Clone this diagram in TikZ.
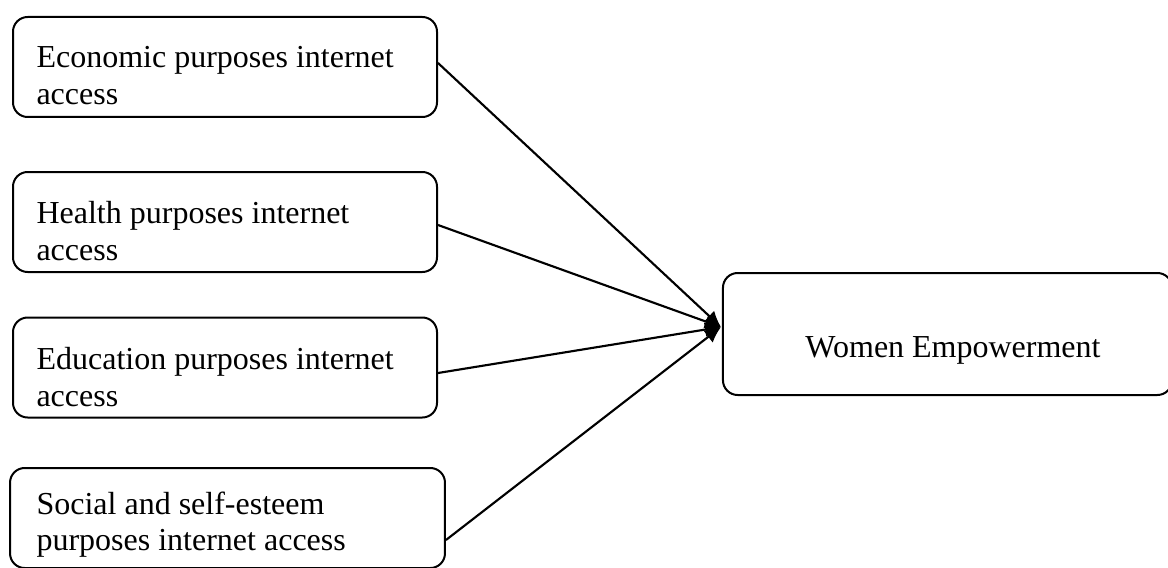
\documentclass[tikz,border=0pt]{standalone}
\usepackage{fontspec}
\setmainfont{Liberation Serif}
\usetikzlibrary{arrows.meta}

\begin{document}
\begin{tikzpicture}[x=0.375pt, y=-0.375pt,
    box/.style={draw, line width=0.75pt, rounded corners=5.5pt, inner sep=0pt, minimum width=159pt, minimum height=37.5pt},
    txt/.style={inner sep=0pt, align=left, anchor=north west, font=\fontsize{12}{13.8}\selectfont},
    link/.style={line width=0.8pt, -{Latex[length=6pt, width=5.5pt]}}]
    \useasboundingbox (0, 0) rectangle (1168, 567);
    % the four kinds of access
    \node[box] (eco) at (225, 67) {};
    \node[box] (hea) at (225, 222) {};
    \node[box] (edu) at (225, 367.5) {};
    \node[box, minimum width=163.1pt] (soc) at (227.5, 518) {};
    \node[txt] (ecotxt) at ([shift={(24, 30)}]eco.north west) {Economic purposes internet\\access};
    \node[txt] (heatxt) at ([shift={(24, 30)}]hea.north west) {Health purposes internet\\access};
    \node[txt] (edutxt) at ([shift={(24, 30)}]edu.north west) {Education purposes internet\\access};
    \node[txt] (soctxt) at ([shift={(27, 24)}]soc.north west) {Social and self-esteem\\purposes internet access};
    % outcome
    \node[box, minimum width=168.4pt, minimum height=45.75pt] (emp) at (947.5, 334) {};
    \node[inner sep=0pt, anchor=base, font=\fontsize{12}{13.8}\selectfont] (emptxt) at ([shift={(5.5, 23)}]emp.center) {Women Empowerment};
    \coordinate (tip) at ([shift={(-1, -7)}]emp.west);
    % links
    \draw[link] ([shift={(0, -4)}]eco.east) -- (tip);
    \draw[link] ([shift={(0, 3)}]hea.east) -- (tip);
    \draw[link] ([shift={(0, 5.5)}]edu.east) -- (tip);
    \draw[link] ([shift={(0, 22)}]soc.east) -- (tip);
\end{tikzpicture}
\end{document}
